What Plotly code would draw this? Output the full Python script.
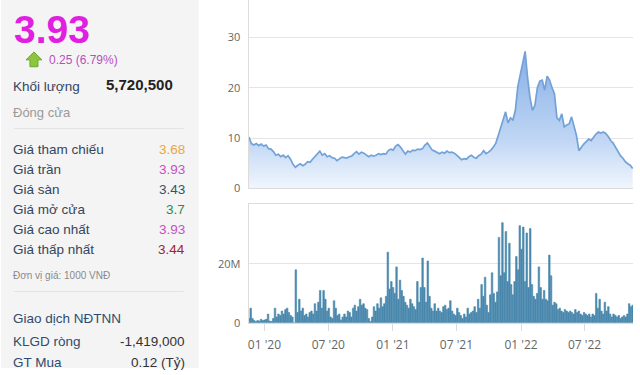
import pandas as pd
import plotly.graph_objects as go

# ---------------- data ----------------
price_values = [
    10.2, 8.9, 8.6, 8.9, 8.5, 8.8, 8.4, 8.6, 7.9, 7.8,
    7.3, 6.6, 6.8, 6.3, 6.6, 6.1, 6.5, 5.8, 4.8, 4.2,
    4.6, 4.9, 4.5, 4.8, 5.3, 5.2, 5.8, 6.3, 6.9, 7.4,
    6.6, 6.9, 6.3, 6.5, 6.1, 6.0, 5.5, 5.8, 6.2, 6.1,
    6.0, 6.3, 6.4, 6.9, 7.3, 6.8, 7.2, 7.0, 6.7, 6.3,
    6.6, 6.4, 6.6, 6.9, 6.7, 6.9, 6.8, 7.5, 7.8, 7.6,
    8.4, 8.7, 8.2, 7.4, 6.8, 7.4, 7.2, 7.6, 7.5, 7.8,
    7.7, 7.9, 8.6, 9.0, 8.4, 7.6, 7.4, 7.1, 6.9, 7.2,
    7.0, 7.4, 7.1, 7.2, 7.0, 6.6, 6.2, 5.7, 5.9, 5.8,
    6.3, 6.6, 6.2, 6.0, 6.5, 6.8, 7.5, 6.9, 7.2, 7.6,
    8.2, 9.0, 10.5, 12.2, 14.0, 15.2, 13.0, 14.0, 13.6, 15.5,
    20.2, 22.5, 24.5, 27.2, 22.0, 18.0, 15.5, 16.5, 20.0, 21.3,
    21.5, 19.5, 22.3, 21.5, 20.0, 18.8, 14.0, 13.5, 14.8, 12.2,
    12.6, 12.8, 14.2, 12.6, 10.5, 7.5, 8.2, 8.8, 9.3, 9.8,
    9.5, 10.2, 10.8, 11.2, 11.0, 11.2, 10.9, 10.3, 9.5, 9.0,
    8.2, 7.2, 6.5, 6.0, 5.3, 4.9, 4.6, 3.93,
]

volume_millions = [
    1.5, 5.0, 1.5, 0.8, 0.5, 0.8, 0.6, 1.2, 0.8, 1.0,
    1.2, 3.0, 0.6, 0.5, 1.5, 5.0, 2.0, 3.0, 2.5, 4.0,
    3.0, 4.5, 5.0, 3.5, 2.5, 2.0, 0.0, 18.0, 3.5, 8.0,
    4.0, 5.0, 2.5, 3.0, 2.0, 3.5, 4.0, 3.0, 6.5, 4.0,
    7.0, 11.0, 5.0, 11.0, 8.0, 4.0, 5.0, 2.0, 1.5, 7.5,
    5.0, 2.5, 3.0, 1.0, 2.0, 3.0, 2.0, 4.0, 3.5, 2.0,
    5.0, 6.0, 4.0, 5.5, 8.0, 6.0, 6.5, 5.0, 4.5, 1.5,
    0.5, 2.0, 5.5, 4.0, 6.5, 5.0, 8.5, 5.5, 6.5, 9.0,
    24.0, 11.5, 14.0, 12.0, 10.0, 19.0, 8.0, 14.5, 11.0, 9.0,
    7.0, 6.0, 5.0, 8.0, 6.5, 5.5, 4.5, 14.0, 7.0, 12.0,
    22.0, 12.0, 7.0, 21.0, 9.0, 5.0, 4.0, 6.5, 4.0, 5.0,
    4.0, 3.5, 5.5, 6.0, 4.5, 5.0, 7.5, 4.0, 3.0, 2.5,
    5.0, 3.5, 2.5, 1.5, 3.0, 2.0, 5.0, 3.0, 3.5, 4.0,
    5.5, 3.5, 8.0, 5.0, 13.0, 9.0, 15.5, 6.0, 3.5, 9.5,
    17.0, 10.0, 7.0, 10.5, 29.0, 16.0, 34.0, 17.0, 31.0, 14.0,
    27.0, 13.0, 9.5, 14.0, 22.5, 18.0, 33.0, 25.0, 32.5, 14.0,
    30.5, 12.0, 32.0, 13.0, 9.0, 8.0, 10.0, 19.0, 12.0, 8.0,
    11.0, 8.0, 7.5, 23.0, 16.0, 6.0, 7.0, 6.5, 4.5, 5.0,
    4.0, 3.5, 4.5, 4.0, 3.5, 4.0, 3.5, 3.0, 4.5, 3.5,
    4.0, 3.0, 2.5, 3.5, 3.0, 2.5, 3.0, 2.0, 3.0, 2.5,
    10.0, 5.0, 8.0, 4.0, 3.0, 7.0, 4.0, 5.5, 3.0, 2.0,
    3.0, 2.5, 2.0, 2.5, 1.5, 2.0, 2.5, 2.0, 3.0, 6.5,
    5.5, 6.0,
]

date_start = "2019-11-18"
date_end = "2022-11-15"
x_range = ["2019-11-17", "2022-11-16"]

price_ticks = [0, 10, 20, 30]
volume_ticks = [0, 20e6, 40e6]
volume_tick_text = ["0", "20M", ""]
x_tick_dates = ["2020-01-01", "2020-07-01", "2021-01-01", "2021-07-01", "2022-01-01", "2022-07-01"]
x_tick_text = ["01 '20", "07 '20", "01 '21", "07 '21", "01 '22", "07 '22"]

info_rows = [
    ("Giá tham chiếu", "3.68", "#eea544"),
    ("Giá trần", "3.93", "#c64fc8"),
    ("Giá sàn", "3.43", "#2b5670"),
    ("Giá mở cửa", "3.7", "#2f8b3b"),
    ("Giá cao nhất", "3.93", "#c64fc8"),
    ("Giá thấp nhất", "3.44", "#a3242b"),
]
foreign_rows = [
    ("KLGD ròng", "-1,419,000"),
    ("GT Mua", "0.12 (Tỷ)"),
]

# ---------------- figure ----------------
W, H = 640, 375


def px(x):
    return x / W


def py(y):
    return 1 - y / H


price_dates = pd.date_range(date_start, date_end, periods=len(price_values))
vol_dates = pd.date_range(date_start, date_end, periods=len(volume_millions))
volumes = [v * 1e6 for v in volume_millions]
bar_step_ms = (vol_dates[1] - vol_dates[0]).total_seconds() * 1000

fig = go.Figure()

fig.add_trace(go.Scatter(
    x=price_dates, y=price_values, mode="lines",
    line=dict(color="#72a2d8", width=1.7),
    fill="tozeroy",
    fillgradient=dict(
        type="vertical",
        start=0, stop=28,
        colorscale=[[0, "rgba(242,247,253,0.9)"], [0.35, "rgba(190,213,244,0.95)"], [1, "rgba(125,168,228,0.95)"]],
    ),
    xaxis="x", yaxis="y", hoverinfo="skip", showlegend=False,
))

fig.add_trace(go.Bar(
    x=vol_dates, y=volumes,
    width=bar_step_ms * 0.9,
    marker=dict(color="#4a88ad", line=dict(width=0.6, color="#4a88ad")),
    xaxis="x2", yaxis="y2", hoverinfo="skip", showlegend=False,
))

tick_font = dict(family="Open Sans, Lato, sans-serif", size=11, color="#666666")
grid_c = "#e6e6e6"
line_c = "#dcdcdc"

xdom = [px(248), px(633)]

fig.update_layout(
    width=W, height=H, autosize=False,
    margin=dict(l=0, r=0, t=0, b=0),
    paper_bgcolor="white", plot_bgcolor="white",
    xaxis=dict(domain=xdom, range=x_range, type="date", showticklabels=False,
               showgrid=False, showline=True, linecolor=line_c, ticks="",
               zeroline=False),
    yaxis=dict(domain=[py(192), 1], range=[0, 37.4], tickvals=price_ticks,
               showgrid=True, gridcolor=grid_c, showline=True, linecolor=line_c,
               zeroline=False, tickfont=tick_font, ticks="", ticklabelstandoff=5),
    xaxis2=dict(domain=xdom, range=x_range, type="date", anchor="y2",
                tickvals=x_tick_dates, ticktext=x_tick_text,
                tickfont=dict(family="Open Sans, Lato, sans-serif", size=12, color="#666666"),
                showgrid=False, showline=True, mirror=True, linecolor=line_c,
                ticks="outside", ticklen=7, tickcolor=line_c, zeroline=False,
                ticklabelstandoff=4),
    yaxis2=dict(domain=[py(329), py(208)], range=[0, 40.3e6], anchor="x2",
                tickvals=volume_ticks, ticktext=volume_tick_text,
                showgrid=True, gridcolor=grid_c, showline=True, linecolor=line_c,
                zeroline=False, tickfont=tick_font, ticks="", ticklabelstandoff=5),
)

shapes = []
# left info panel background
shapes.append(dict(type="rect", xref="paper", yref="paper", x0=0, x1=px(198), y0=0, y1=1,
                   fillcolor="#f4f4f4", line=dict(width=0), layer="below"))
# separators
for yy in (131, 297):
    shapes.append(dict(type="line", xref="paper", yref="paper", x0=px(13), x1=px(183),
                       y0=py(yy), y1=py(yy), line=dict(color="#e2e2e2", width=1)))
# green up arrow icon
arrow_pts = [(33, 53), (41, 61), (37, 61), (37, 68), (29, 68), (29, 61), (25, 61)]
path = "M " + " L ".join(f"{px(a):.5f},{py(b):.5f}" for a, b in arrow_pts) + " Z"
shapes.append(dict(type="path", xref="paper", yref="paper", path=path,
                   fillcolor="#8cc63f", line=dict(color="#6ea62e", width=1)))

annotations = []
LBL = "Liberation Sans, Arial, sans-serif"
PAD = 3  # annotation inner padding compensation


def txt(x, y, s, size, color, anchor="left", bold=False):
    xx = x - PAD if anchor == "left" else x + PAD
    annotations.append(dict(
        xref="paper", yref="paper", x=px(xx), y=py(y), text=f"<b>{s}</b>" if bold else s,
        showarrow=False, xanchor=anchor, yanchor="middle",
        font=dict(family=LBL, size=size, color=color)))


txt(14, 30, "3.93", 39, "#e01fe0", bold=True)
txt(49, 61, "0.25 (6.79%)", 12, "#b94ec0")
txt(13, 88, "Khối lượng", 13.5, "#34455c")
txt(106, 86, "5,720,500", 15, "#222222", bold=True)
txt(13, 115, "Đóng cửa", 13, "#9a9a9a")

row_y0, row_dy = 152, 20.4
for i, (lab, val, col) in enumerate(info_rows):
    y = row_y0 + i * row_dy
    txt(13, y, lab, 13.5, "#34455c")
    txt(183, y, val, 13.5, col, anchor="right")

txt(13, 281, "Đơn vị giá: 1000 VNĐ", 10, "#8a8a8a")
txt(13, 325, "Giao dịch NĐTNN", 13.5, "#2f4c6e")
for i, (lab, val) in enumerate(foreign_rows):
    y = 348 + i * 21
    txt(13, y, lab, 13.5, "#2f4c6e")
    txt(183, y, val, 13.5, "#333333", anchor="right")

fig.update_layout(shapes=shapes, annotations=annotations)

fig.write_html("out.html", include_plotlyjs=True,
               config={"displayModeBar": False, "staticPlot": True},
               post_script="document.body.style.margin='0';document.body.style.padding='0';")
